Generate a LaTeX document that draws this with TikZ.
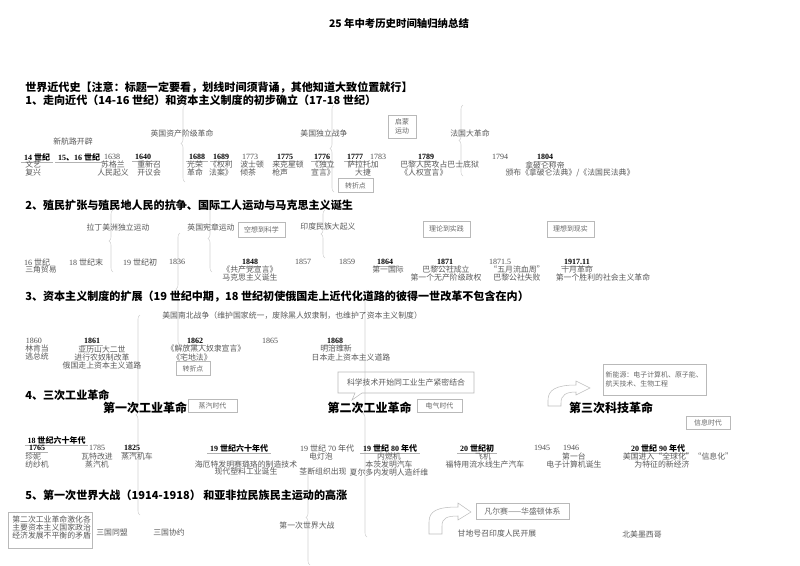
\documentclass[tikz,border=0pt]{standalone}
\usepackage{fontspec}
\setmainfont{Liberation Serif}
\newfontfamily\zhfont{Noto Sans CJK SC}
\usetikzlibrary{decorations.pathreplacing}
\newcommand\zh[1]{{\zhfont #1}}
\tikzset{
  hd/.style={anchor=west,inner sep=0pt,font=\zhfont\bfseries\fontsize{8.3pt}{9pt}\selectfont},
  rev/.style={inner sep=0pt,font=\zhfont\bfseries\fontsize{9pt}{10pt}\selectfont},
  txt/.style={inner sep=0pt,align=center,text=black!65,font=\zhfont\fontsize{5.9pt}{5.8pt}\selectfont},
  yr/.style={inner sep=0pt,text=black!70,font=\fontsize{6pt}{6pt}\selectfont},
  kyr/.style={inner sep=0pt,font=\bfseries\fontsize{6pt}{6pt}\selectfont,
    append after command={([yshift=-0.6pt]\tikzlastnode.south west) edge[draw=gray!60,line width=0.3pt,shorten <=-2pt,shorten >=-2pt] ([yshift=-0.6pt]\tikzlastnode.south east)}},
  tag/.style={draw=gray!55,line width=0.4pt,inner sep=1.5pt,align=center,text=black!60,font=\zhfont\fontsize{5.2pt}{6.4pt}\selectfont},
  boxl/.style={draw=gray!55,line width=0.4pt},
  brc/.style={draw=gray!35,line width=0.4pt,decorate,decoration={brace,amplitude=3pt}},
  bent/.style={draw=gray!50,line width=0.4pt,fill=white},
}
\begin{document}
\begin{tikzpicture}[x=0.75pt,y=-0.75pt]
\useasboundingbox (0,0) rectangle (800,565);
% faint braces behind the text
\draw[brc] (185,182) -- (185,105);
\draw[brc] (334,192) -- (334,105);
\draw[brc] (463,176) -- (463,105);
\draw[brc] (113,272) -- (113,210);
\draw[brc] (212,272) -- (212,205);
\draw[brc] (325,258) -- (325,210);
\draw[brc] (180,345) -- (180,233);
\draw[brc] (140,515) -- (140,315);
\draw[brc] (367,537) -- (367,290);
\draw[brc] (310,565) -- (310,470);
% title
\node[inner sep=0pt,font=\zhfont\bfseries\fontsize{7.8pt}{8pt}\selectfont] (title) at (399,24) {25 年中考历史时间轴归纳总结};
\node[hd] (h0) at (25,88) {世界近代史【注意：标题一定要看，划线时间须背诵，其他知道大致位置就行】};
\node[hd] (h1) at (25,100) {1、走向近代（14-16 世纪）和资本主义制度的初步确立（17-18 世纪）};
% 1
\node[txt] (l1a) at (182,133) {英国资产阶级革命};
\node[txt] (l1b) at (73,141) {新航路开辟};
\node[txt] (l1c) at (324,133) {美国独立战争};
\node[txt] (l1d) at (470,133) {法国大革命};
\node[tag,minimum width=21pt,minimum height=17pt] (qm) at (402,126.5) {启蒙\\运动};
\node[kyr] (c14) at (37,157) {14 \zh{世纪}};
\node[kyr] (c15) at (79,157) {15\zh{、}16 \zh{世纪}};
\node[yr] (y1638) at (112,157) {1638};
\node[kyr] (y1640) at (143,157) {1640};
\node[kyr] (y1688) at (197,157) {1688};
\node[kyr] (y1689) at (221,157) {1689};
\node[yr] (y1773) at (250,157) {1773};
\node[kyr] (y1775) at (285,157) {1775};
\node[kyr] (y1776) at (322,157) {1776};
\node[kyr] (y1777) at (355,157) {1777};
\node[yr] (y1783) at (378,157) {1783};
\node[kyr] (y1789) at (426,157) {1789};
\node[yr] (y1794) at (500,157) {1794};
\node[kyr] (y1804) at (545,157) {1804};
\node[txt,anchor=west,align=left] (d14) at (25,168.5) {文艺\\复兴};
\node[txt] (d1638) at (113,168.5) {苏格兰\\人民起义};
\node[txt,anchor=west,align=left] (d1640) at (137,168.5) {重新召\\开议会};
\node[txt] (d1688) at (195,168.5) {光荣\\革命};
\node[txt] (d1689) at (221,168.5) {《权利\\法案》};
\node[txt,anchor=west,align=left] (d1773) at (240,168.5) {波士顿\\倾茶};
\node[txt,anchor=west,align=left] (d1775) at (272,168.5) {来克星顿\\枪声};
\node[txt] (d1776) at (323,168.5) {《独立\\宣言》};
\node[txt] (d1777) at (363,168.5) {萨拉托加\\大捷};
\node[txt,anchor=west,align=left] (d1789) at (400,168.5) {巴黎人民攻占巴士底狱\\《人权宣言》};
\node[txt] (d1804a) at (545,165) {拿破仑称帝};
\node[txt] (d1804b) at (570,172.5) {颁布《拿破仑法典》/《法国民法典》};
\node[tag,minimum width=26pt,minimum height=10.5pt] (zz1) at (355.5,185.5) {转折点};
% 2
\node[hd] (h2) at (25,205) {2、殖民扩张与殖民地人民的抗争、国际工人运动与马克思主义诞生};
\node[txt] (l2a) at (118,227) {拉丁美洲独立运动};
\node[txt] (l2b) at (211,227) {英国宪章运动};
\node[txt] (l2c) at (328,227) {印度民族大起义};
\node[tag,minimum width=35pt,minimum height=11.5pt] (t2a) at (261.5,229.5) {空想到科学};
\node[tag,minimum width=35pt,minimum height=12pt] (t2b) at (446.5,229) {理论到实践};
\node[tag,minimum width=35pt,minimum height=12pt] (t2c) at (570.5,229) {理想到现实};
\node[yr] (c16) at (37,262) {16 \zh{世纪}};
\node[yr] (c18) at (86,262) {18 \zh{世纪末}};
\node[yr] (c19) at (140,262) {19 \zh{世纪初}};
\node[yr] (y1836) at (177,262) {1836};
\node[kyr] (y1848) at (250,262) {1848};
\node[yr] (y1857) at (303,262) {1857};
\node[yr] (y1859) at (347,262) {1859};
\node[kyr] (y1864) at (385,262) {1864};
\node[kyr] (y1871) at (445,262) {1871};
\node[yr] (y18715) at (500,262) {1871.5};
\node[kyr] (y1917) at (577,262) {1917.11};
\node[txt,anchor=west] (d16) at (25,269.5) {三角贸易};
\node[txt] (d1848) at (250,273.5) {《共产党宣言》\\马克思主义诞生};
\node[txt] (d1864) at (388,269.5) {第一国际};
\node[txt] (d1871) at (446,273.5) {巴黎公社成立\\第一个无产阶级政权};
\node[txt] (d18715) at (517,273.5) {“五月流血周”\\巴黎公社失败};
\node[txt] (d1917a) at (577,269.5) {十月革命};
\node[txt] (d1917b) at (603,277) {第一个胜利的社会主义革命};
% 3
\node[hd] (h3) at (25,297) {3、资本主义制度的扩展（19 世纪中期，18 世纪初使俄国走上近代化道路的彼得一世改革不包含在内）};
\node[txt,anchor=west] (l3a) at (162,316) {美国南北战争（维护国家统一，废除黑人奴隶制，也维护了资本主义制度）};
\node[yr] (y1860) at (34,341) {1860};
\node[kyr] (y1861) at (92,341) {1861};
\node[kyr] (y1862) at (195,341) {1862};
\node[yr] (y1865) at (270,341) {1865};
\node[kyr] (y1868) at (335,341) {1868};
\node[txt,anchor=west,align=left] (d1860) at (25,352.5) {林肯当\\逃总统};
\node[txt] (d1861) at (102,357.5) {亚历山大二世\\进行农奴制改革\\俄国走上资本主义道路};
\node[txt] (d1862a) at (206,349) {《解放黑人奴隶宣言》};
\node[txt] (d1862b) at (192,357) {《宅地法》};
\node[txt] (d1868a) at (336,349) {明治维新};
\node[txt] (d1868b) at (351,357) {日本走上资本主义道路};
\node[tag,minimum width=25.5pt,minimum height=10.5pt] (zz2) at (193,368.5) {转折点};
% 4
\node[hd] (h4) at (25,395) {4、三次工业革命};
\node[rev] (r1) at (145,408) {第一次工业革命};
\node[rev] (r2) at (369.5,408) {第二次工业革命};
\node[rev] (r3) at (611,408) {第三次科技革命};
\node[tag,minimum width=36.75pt,minimum height=9.75pt] (t4a) at (212.5,405.5) {蒸汽时代};
\node[tag,minimum width=33.75pt,minimum height=9.75pt] (t4b) at (439.5,405.5) {电气时代};
\node[tag,minimum width=33pt,minimum height=9.75pt] (t4c) at (708,422.5) {信息时代};
\draw[boxl] (338,372) -- (474,372) -- (474,393) -- (362,393) -- (352,400) -- (355,393) -- (338,393) -- cycle;
\node[txt] (kj) at (406,382) {科学技术开始同工业生产紧密结合};
\node[tag,text width=74pt,align=left,minimum height=23pt] (xny) at (655,379.5) {新能源：电子计算机、原子能、\\航天技术、生物工程};
\draw[bent] (548,406) -- (548,400) .. controls (548,390) and (556,385) .. (576,385) -- (576,381) -- (590,388) -- (576,395) -- (576,392) .. controls (566,392) and (561,395) .. (561,403) -- (561,406) -- cycle;
\node[kyr] (c1760s) at (56.5,440) {18 \zh{世纪六十年代}};
\node[kyr] (y1765) at (37,448) {1765};
\node[yr] (y1785) at (97,448) {1785};
\node[kyr] (y1825) at (132,448) {1825};
\node[kyr] (c1860s) at (239,448) {19 \zh{世纪六十年代}};
\node[yr] (c1870s) at (327,448) {19 \zh{世纪} 70 \zh{年代}};
\node[kyr] (c1880s) at (390,448) {19 \zh{世纪} 80 \zh{年代}};
\node[kyr] (c1900s) at (477,448) {20 \zh{世纪初}};
\node[yr] (y1945) at (542,448) {1945};
\node[yr] (y1946) at (571,448) {1946};
\node[kyr] (c1990s) at (658,448) {20 \zh{世纪} 90 \zh{年代}};
\node[txt,anchor=west,align=left] (d1765) at (25,460.5) {珍妮\\纺纱机};
\node[txt] (d1785) at (97,460.5) {瓦特改进\\蒸汽机};
\node[txt] (d1825) at (137,456.5) {蒸汽机车};
\node[txt] (d1860s) at (246,468) {海厄特发明赛璐珞的制造技术\\现代塑料工业诞生};
\node[txt] (d1870a) at (321,456.5) {电灯泡};
\node[txt] (d1870b) at (323,472) {茎断组织出现};
\node[txt] (d1880s) at (389,464.5) {内燃机\\本茨发明汽车\\夏尔多内发明人造纤维};
\node[txt] (d1900a) at (483,456.5) {飞机};
\node[txt] (d1900b) at (485,464.5) {福特用流水线生产汽车};
\node[txt] (d1946) at (574,460.5) {第一台\\电子计算机诞生};
\node[txt] (d1990a) at (678,456.5) {美国进入“全球化”“信息化”};
\node[txt] (d1990b) at (662,464.5) {为特征的新经济};
% 5
\node[hd] (h5) at (25,495) {5、第一次世界大战（1914-1918） 和亚非拉民族民主运动的高涨};
\node[txt,anchor=north west,align=left,inner sep=3pt] (gap) at (8,512) {第二次工业革命激化各\\主要资本主义国家政治\\经济发展不平衡的矛盾};
\draw[boxl] (gap.north west) rectangle ++(84,36);
\node[txt] (ally) at (112,533) {三国同盟};
\node[txt] (ent) at (169,533) {三国协约};
\node[txt] (ww1) at (307,526) {第一次世界大战};
\draw[bent] (429,534) -- (429,522) .. controls (429,511) and (437,507) .. (458,507) -- (458,503) -- (471,512) -- (458,520) -- (458,516) .. controls (447,516) and (442,518) .. (442,526) -- (442,534) -- cycle;
\node[tag,minimum width=69.75pt,minimum height=12pt,font=\zhfont\fontsize{5.9pt}{6pt}\selectfont] (vw) at (522.5,511) {凡尔赛——华盛顿体系};
\node[txt] (gandhi) at (497,534) {甘地号召印度人民开展};
\node[txt] (mex) at (642,534) {北美墨西哥};
\end{tikzpicture}
\end{document}
